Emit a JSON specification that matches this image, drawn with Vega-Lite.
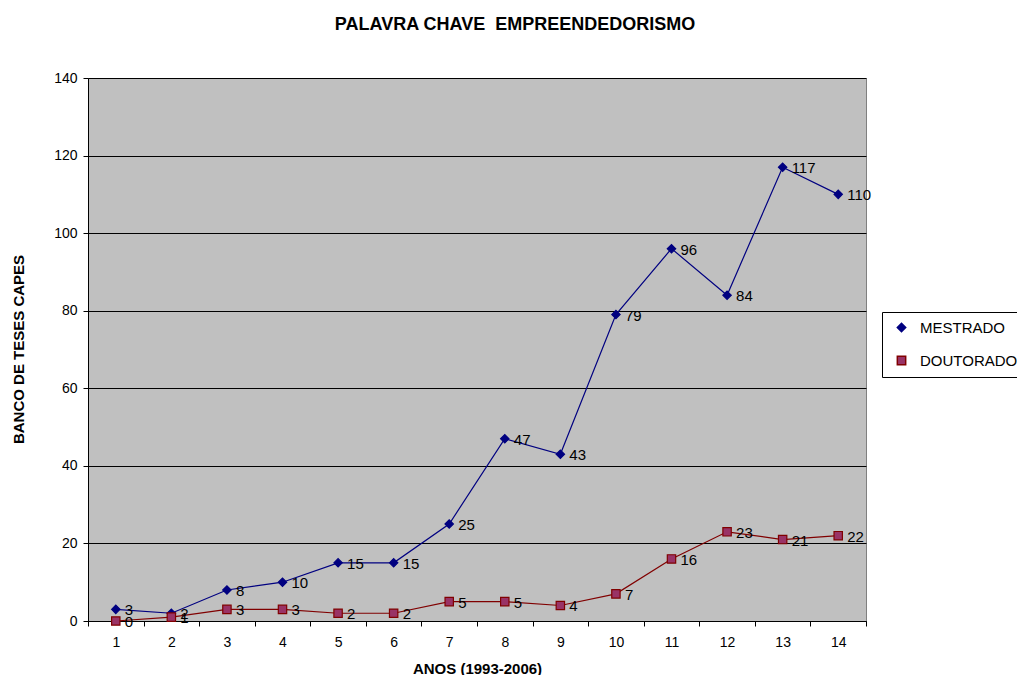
{
  "$schema": "https://vega.github.io/schema/vega-lite/v6.json",
  "width": 778,
  "height": 543,
  "autosize": {"type": "none"},
  "padding": {"left": 88, "top": 78, "right": 151, "bottom": 54},
  "background": "white",
  "title": {
    "text": "PALAVRA CHAVE\u00a0 EMPREENDEDORISMO",
    "font": "Liberation Sans",
    "fontSize": 18,
    "fontWeight": "bold",
    "color": "black",
    "anchor": "middle",
    "frame": "group",
    "dx": 38,
    "offset": 37
  },
  "config": {
    "font": "Liberation Sans",
    "view": {"fill": "#C0C0C0", "stroke": "#808080", "strokeWidth": 1},
    "legend": {
      "title": null,
      "orient": "none",
      "legendX": 794,
      "legendY": 234,
      "direction": "vertical",
      "strokeColor": "black",
      "fillColor": "white",
      "padding": 8,
      "labelFontSize": 15,
      "labelColor": "black",
      "labelFont": "Liberation Sans",
      "rowPadding": 17,
      "symbolSize": 70,
      "symbolOffset": 4,
      "labelOffset": 11
    }
  },
  "data": {
    "values": [
      {"ano": 1, "serie": "MESTRADO", "valor": 3},
      {"ano": 2, "serie": "MESTRADO", "valor": 2},
      {"ano": 3, "serie": "MESTRADO", "valor": 8},
      {"ano": 4, "serie": "MESTRADO", "valor": 10},
      {"ano": 5, "serie": "MESTRADO", "valor": 15},
      {"ano": 6, "serie": "MESTRADO", "valor": 15},
      {"ano": 7, "serie": "MESTRADO", "valor": 25},
      {"ano": 8, "serie": "MESTRADO", "valor": 47},
      {"ano": 9, "serie": "MESTRADO", "valor": 43},
      {"ano": 10, "serie": "MESTRADO", "valor": 79},
      {"ano": 11, "serie": "MESTRADO", "valor": 96},
      {"ano": 12, "serie": "MESTRADO", "valor": 84},
      {"ano": 13, "serie": "MESTRADO", "valor": 117},
      {"ano": 14, "serie": "MESTRADO", "valor": 110},
      {"ano": 1, "serie": "DOUTORADO", "valor": 0},
      {"ano": 2, "serie": "DOUTORADO", "valor": 1},
      {"ano": 3, "serie": "DOUTORADO", "valor": 3},
      {"ano": 4, "serie": "DOUTORADO", "valor": 3},
      {"ano": 5, "serie": "DOUTORADO", "valor": 2},
      {"ano": 6, "serie": "DOUTORADO", "valor": 2},
      {"ano": 7, "serie": "DOUTORADO", "valor": 5},
      {"ano": 8, "serie": "DOUTORADO", "valor": 5},
      {"ano": 9, "serie": "DOUTORADO", "valor": 4},
      {"ano": 10, "serie": "DOUTORADO", "valor": 7},
      {"ano": 11, "serie": "DOUTORADO", "valor": 16},
      {"ano": 12, "serie": "DOUTORADO", "valor": 23},
      {"ano": 13, "serie": "DOUTORADO", "valor": 21},
      {"ano": 14, "serie": "DOUTORADO", "valor": 22}
    ]
  },
  "encoding": {
    "x": {
      "field": "ano",
      "type": "ordinal",
      "scale": {"type": "band", "paddingInner": 0, "paddingOuter": 0},
      "axis": {
        "title": "ANOS (1993-2006)",
        "titleFont": "Liberation Sans",
        "titleFontSize": 15,
        "titleFontWeight": "bold",
        "titleColor": "black",
        "titleY": 47,
        "titleBaseline": "middle",
        "labelAngle": 0,
        "labelFontSize": 14,
        "labelColor": "black",
        "labelPadding": 9,
        "tickBand": "extent",
        "tickColor": "black",
        "tickSize": 5,
        "domainColor": "black",
        "grid": false
      }
    },
    "y": {
      "field": "valor",
      "type": "quantitative",
      "scale": {"domain": [0, 140], "nice": false},
      "axis": {
        "title": "BANCO DE TESES CAPES",
        "titleFont": "Liberation Sans",
        "titleFontSize": 15,
        "titleFontWeight": "bold",
        "titleColor": "black",
        "titleX": -70,
        "titleY": 271,
        "titleAngle": -90,
        "titleBaseline": "middle",
        "values": [0, 20, 40, 60, 80, 100, 120, 140],
        "labelFontSize": 14,
        "labelColor": "black",
        "labelPadding": 6,
        "tickColor": "black",
        "tickSize": 5,
        "domainColor": "black",
        "grid": true,
        "gridColor": "black",
        "gridOpacity": 1,
        "gridWidth": 1
      }
    }
  },
  "layer": [
    {
      "mark": {"type": "line", "strokeWidth": 1.2},
      "encoding": {
        "stroke": {
          "field": "serie",
          "type": "nominal",
          "scale": {"domain": ["MESTRADO", "DOUTORADO"], "range": ["#000080", "#800000"]}
        }
      }
    },
    {
      "mark": {"type": "point", "filled": true, "opacity": 1, "strokeWidth": 1.2},
      "encoding": {
        "shape": {
          "field": "serie",
          "type": "nominal",
          "scale": {"domain": ["MESTRADO", "DOUTORADO"], "range": ["diamond", "square"]}
        },
        "fill": {
          "field": "serie",
          "type": "nominal",
          "scale": {"domain": ["MESTRADO", "DOUTORADO"], "range": ["#000080", "#993366"]}
        },
        "stroke": {
          "field": "serie",
          "type": "nominal"
        },
        "size": {"value": 70}
      }
    },
    {
      "mark": {"type": "text", "align": "left", "baseline": "middle", "dx": 9, "dy": 1, "fontSize": 15, "color": "black", "font": "Liberation Sans"},
      "encoding": {
        "text": {"field": "valor", "type": "quantitative"}
      }
    }
  ]
}
